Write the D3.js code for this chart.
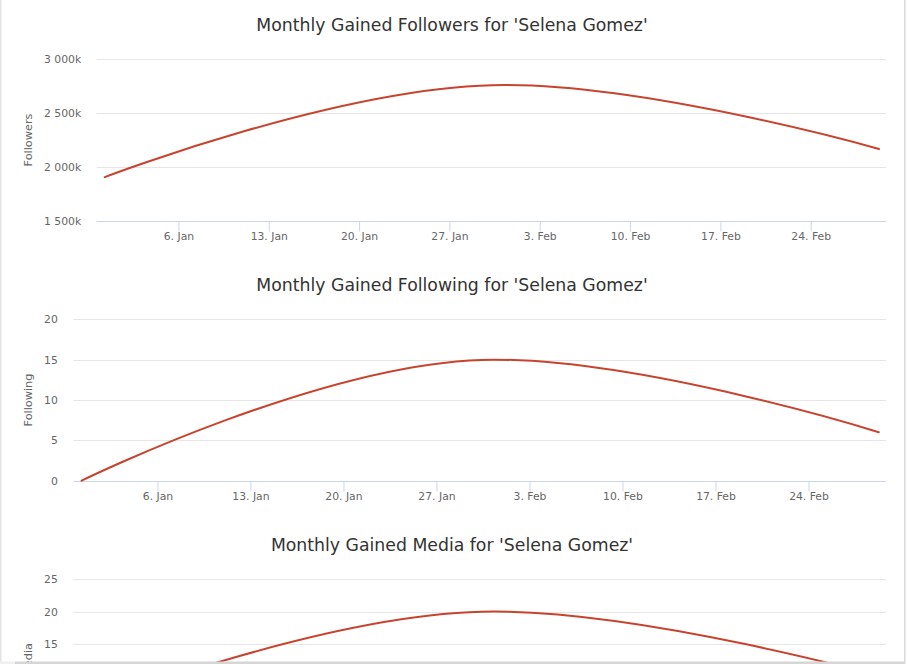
<!DOCTYPE html>
<html>
<head>
<meta charset="utf-8">
<script src="https://cdn.jsdelivr.net/npm/d3@7/dist/d3.min.js"></script>
<style>
  html, body { margin: 0; padding: 0; background: #fff; }
  svg { display: block; }
</style>
</head>
<body>
<svg id="chart" width="907" height="664"></svg>
<script>
// ---------------- DATA ----------------
const titles = [
  "Monthly Gained Followers for 'Selena Gomez'",
  "Monthly Gained Following for 'Selena Gomez'",
  "Monthly Gained Media for 'Selena Gomez'"
];
const axisTitles = ["Followers", "Following", "Media"];
// data point timestamps (UTC)
const pointDates = ["2018-12-31T07:00:00Z", "2019-01-31T07:00:00Z", "2019-03-01T07:00:00Z"];
const followersValues = [1905000, 2761000, 2166000];
const followingValues = [0, 15, 6];
const mediaValues = [5, 20, 10];
// x axis
const xDomain = ["2018-12-30T16:00:00Z", "2019-03-01T20:00:00Z"];
const xTickDates = ["2019-01-06", "2019-01-13", "2019-01-20", "2019-01-27",
                    "2019-02-03", "2019-02-10", "2019-02-17", "2019-02-24"];
// y axes
const followersTicks = [1500000, 2000000, 2500000, 3000000];
const followersTickLabels = ["1 500k", "2 000k", "2 500k", "3 000k"];
const followingTicks = [0, 5, 10, 15, 20];
const followingTickLabels = ["0", "5", "10", "15", "20"];
const mediaTicks = [0, 5, 10, 15, 20, 25];
const mediaTickLabels = ["0", "5", "10", "15", "20", "25"];

const panels = [
  { title: titles[0], axisTitle: axisTitles[0], values: followersValues, ticks: followersTicks, labels: followersTickLabels, left: 96.7 },
  { title: titles[1], axisTitle: axisTitles[1], values: followingValues, ticks: followingTicks, labels: followingTickLabels, left: 73.3 },
  { title: titles[2], axisTitle: axisTitles[2], values: mediaValues, ticks: mediaTicks, labels: mediaTickLabels, left: 73.3 }
];

// ---------------- Highcharts-like spline curve ----------------
function hcSpline(context) {
  let pts = [];
  return {
    lineStart() { pts = []; },
    lineEnd() {
      const n = pts.length;
      if (!n) return;
      const sm = 1.5, den = 2.5;
      const L = [], R = [];
      for (let i = 0; i < n; i++) {
        const [x, y] = pts[i];
        if (i > 0 && i < n - 1) {
          const [lx, ly] = pts[i - 1], [nx, ny] = pts[i + 1];
          let lcx = (sm * x + lx) / den, lcy = (sm * y + ly) / den;
          let rcx = (sm * x + nx) / den, rcy = (sm * y + ny) / den;
          let corr = 0;
          if (rcx !== lcx) corr = ((rcy - lcy) * (rcx - x)) / (rcx - lcx) + y - rcy;
          lcy += corr; rcy += corr;
          if (lcy > ly && lcy > y) { lcy = Math.max(ly, y); rcy = 2 * y - lcy; }
          else if (lcy < ly && lcy < y) { lcy = Math.min(ly, y); rcy = 2 * y - lcy; }
          if (rcy > ny && rcy > y) { rcy = Math.max(ny, y); lcy = 2 * y - rcy; }
          else if (rcy < ny && rcy < y) { rcy = Math.min(ny, y); lcy = 2 * y - rcy; }
          L[i] = [lcx, lcy]; R[i] = [rcx, rcy];
        } else {
          L[i] = [x, y]; R[i] = [x, y];
        }
      }
      context.moveTo(pts[0][0], pts[0][1]);
      for (let i = 1; i < n; i++) {
        context.bezierCurveTo(R[i - 1][0], R[i - 1][1], L[i][0], L[i][1], pts[i][0], pts[i][1]);
      }
    },
    areaStart() {}, areaEnd() {},
    point(x, y) { pts.push([+x, +y]); }
  };
}

// ---------------- DRAW ----------------
const svg = d3.select("#chart");
const W = 907, H = 664;
const panelH = 260;
const plotTop = 59.3, plotBottom = 220.7, plotRight = 886;
const FONT = "'DejaVu Sans', Verdana, sans-serif";
const lineColor = "#c8432d";

svg.append("rect").attr("width", W).attr("height", H).attr("fill", "#fff");

const dates = pointDates.map(d => new Date(d));
const xTicks = xTickDates.map(d => new Date(d + "T00:00:00Z"));
const fmt = d3.utcFormat("%-d. %b");

panels.forEach((p, i) => {
  const off = i * panelH;
  const g = svg.append("g").attr("transform", `translate(0,${off})`);
  const x = d3.scaleUtc().domain(xDomain.map(d => new Date(d))).range([p.left, plotRight]);
  const y = d3.scaleLinear().domain([p.ticks[0], p.ticks[p.ticks.length - 1]]).range([plotBottom, plotTop]);

  // title
  g.append("text")
    .attr("x", 452).attr("y", 30.5)
    .attr("text-anchor", "middle")
    .attr("font-family", FONT).attr("font-size", "17.3px")
    .attr("fill", "#333333")
    .text(p.title);

  // gridlines
  g.append("g").selectAll("line").data(p.ticks.slice(1)).join("line")
    .attr("x1", p.left).attr("x2", plotRight)
    .attr("y1", d => Math.round(y(d)) + 0.5).attr("y2", d => Math.round(y(d)) + 0.5)
    .attr("stroke", "#e6e6e6").attr("stroke-width", 1);

  // y labels (only those inside the visible window)
  const visTicks = p.ticks.map((t, k) => ({ t, label: p.labels[k] }))
    .filter(o => off + y(o.t) - 8 < H);
  g.append("g").selectAll("text").data(visTicks).join("text")
    .attr("x", p.left - 15.5)
    .attr("y", d => y(d.t) + 4)
    .attr("text-anchor", "end")
    .attr("font-family", FONT).attr("font-size", "10.8px")
    .attr("fill", "#666666")
    .text(d => d.label);

  // y axis title
  g.append("text")
    .attr("transform", `translate(32,${(plotTop + plotBottom) / 2}) rotate(-90)`)
    .attr("text-anchor", "middle")
    .attr("font-family", FONT).attr("font-size", "11.3px")
    .attr("fill", "#666666")
    .text(p.axisTitle);

  // x axis (drawn only when inside the visible window)
  if (off + plotBottom < H) {
    const xAxis = d3.axisBottom(x).tickValues(xTicks).tickFormat(fmt).tickSize(10).tickPadding(1);
    const ax = g.append("g")
      .attr("transform", `translate(0,${Math.round(plotBottom) + 0.5})`)
      .call(xAxis);
    ax.select(".domain").attr("stroke", "#ccd6eb").attr("d", `M${p.left},0H${plotRight}`);
    ax.selectAll(".tick line").attr("stroke", "#ccd6eb");
    ax.selectAll(".tick text")
      .attr("font-family", FONT).attr("font-size", "10.8px")
      .attr("fill", "#666666");
  }

  // series line
  const line = d3.line()
    .x((d, k) => x(dates[k]))
    .y(d => y(d))
    .curve(hcSpline);
  g.append("path")
    .datum(p.values)
    .attr("d", line)
    .attr("fill", "none")
    .attr("stroke", lineColor)
    .attr("stroke-width", 2)
    .attr("stroke-linejoin", "round")
    .attr("stroke-linecap", "round");
});

// frame / page edges
svg.append("rect").attr("x", 0).attr("y", 0).attr("width", 1.5).attr("height", H).attr("fill", "#e3e3e3");
svg.append("rect").attr("x", 904).attr("y", 0).attr("width", 1.5).attr("height", H).attr("fill", "#d9d9d9");
svg.append("rect").attr("x", 0).attr("y", 661.5).attr("width", 15).attr("height", 2.5).attr("fill", "#f0f0f0");
svg.append("rect").attr("x", 15).attr("y", 661.5).attr("width", 890).attr("height", 2.5).attr("fill", "#d6d6d6");
</script>
</body>
</html>
